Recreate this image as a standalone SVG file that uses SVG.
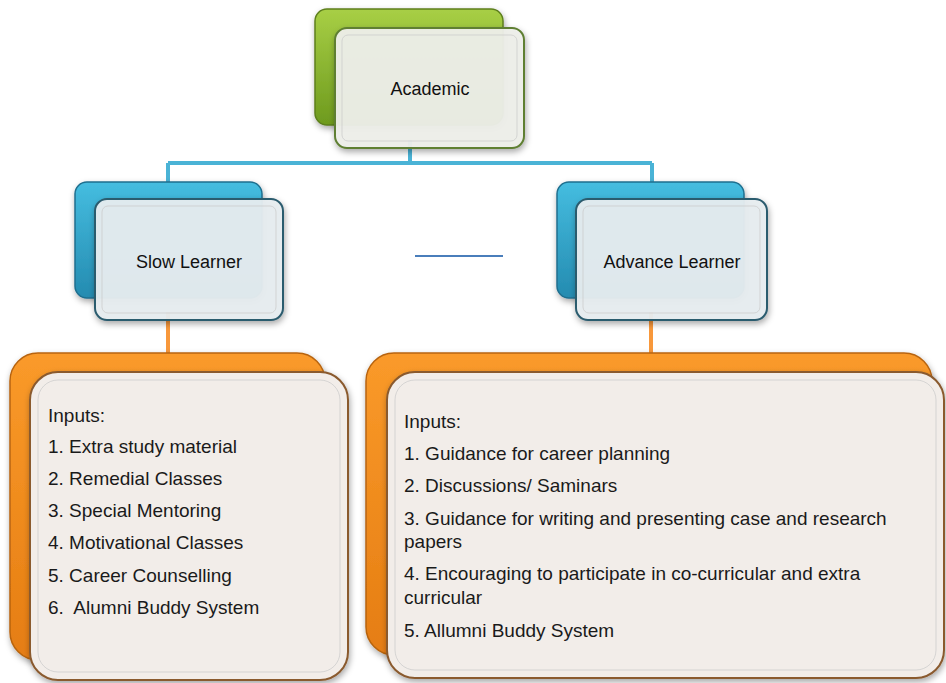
<svg xmlns="http://www.w3.org/2000/svg" width="946" height="683" viewBox="0 0 946 683">
<defs>
<linearGradient id="gGreen" x1="0" y1="0" x2="0" y2="1"><stop offset="0" stop-color="#a8cf45"/><stop offset="1" stop-color="#6e9a1e"/></linearGradient>
<linearGradient id="gBlue" x1="0" y1="0" x2="0" y2="1"><stop offset="0" stop-color="#45bde0"/><stop offset="1" stop-color="#248bb0"/></linearGradient>
<linearGradient id="gOrange" x1="0" y1="0" x2="0" y2="1"><stop offset="0" stop-color="#fa9a2a"/><stop offset="1" stop-color="#e57d12"/></linearGradient>
<filter id="sh" x="-10%" y="-10%" width="125%" height="125%"><feDropShadow dx="1" dy="3" stdDeviation="3" flood-color="#000" flood-opacity="0.35"/></filter>
<style>
.back{filter:url(#sh)}
.fg{fill:#eeefea;stroke:#5f7f33;stroke-width:2}
.fb{fill:#e7edf0;stroke:#2c5b6e;stroke-width:2}
.fo{fill:#f2ede9;stroke:#8a5a2e;stroke-width:2}
.bevel2{fill:none;stroke:#c9c9c9;stroke-width:1;stroke-opacity:0.7}
.lbl{font-family:"Liberation Sans",Arial,sans-serif;font-size:18px;fill:#111;text-anchor:middle}
.txt{font-family:"Liberation Sans",Arial,sans-serif;font-size:19px;fill:#1a1a1a;white-space:pre}
.cb{fill:none;stroke:#4ab3d6;stroke-width:4}
.co{fill:none;stroke:#f8983b;stroke-width:4}
</style>
</defs>
<g id="connectors">
<path class="cb" d="M410,140 V163 M168,163 H652 M168,163 V190 M652,163 V190"/>
<path class="co" d="M168,312 V360 M651,312 V360"/>
<line x1="415" y1="256" x2="503" y2="256" stroke="#4a7ebb" stroke-width="2"/>
</g>
<g id="academic">
<rect class="back" x="315" y="9" width="188" height="116" rx="12" fill="url(#gGreen)" stroke="#5d7f1e" stroke-width="1.5"/>
<rect class="fg" x="335" y="28" width="189" height="120" rx="12" filter="url(#sh)" fill-opacity="0.95"/>
<rect class="bevel2" x="342" y="35" width="175" height="106" rx="6"/>
<text class="lbl" x="430" y="95">Academic</text>
</g>
<g id="slow-learner">
<rect class="back" x="75" y="182" width="187" height="116" rx="12" fill="url(#gBlue)" stroke="#1f6f8f" stroke-width="1.5"/>
<rect class="fb" x="95" y="199" width="188" height="121" rx="12" filter="url(#sh)" fill-opacity="0.95"/>
<rect class="bevel2" x="102" y="206" width="174" height="107" rx="6"/>
<text class="lbl" x="189" y="268">Slow Learner</text>
</g>
<g id="advance-learner">
<rect class="back" x="557" y="182" width="187" height="116" rx="12" fill="url(#gBlue)" stroke="#1f6f8f" stroke-width="1.5"/>
<rect class="fb" x="576" y="199" width="191" height="121" rx="12" filter="url(#sh)" fill-opacity="0.95"/>
<rect class="bevel2" x="583" y="206" width="177" height="107" rx="6"/>
<text class="lbl" x="672" y="268">Advance Learner</text>
</g>
<g id="slow-inputs">
<rect class="back" x="10" y="353" width="315" height="307" rx="28" fill="url(#gOrange)" stroke="#b86410" stroke-width="1.5"/>
<rect class="fo" x="30" y="372" width="318" height="308" rx="28" filter="url(#sh)"/>
<rect class="bevel2" x="38" y="380" width="302" height="292" rx="20"/>
<text class="txt" x="48" y="422">Inputs:</text>
<text class="txt" x="48" y="453">1. Extra study material</text>
<text class="txt" x="48" y="485">2. Remedial Classes</text>
<text class="txt" x="48" y="517">3. Special Mentoring</text>
<text class="txt" x="48" y="549">4. Motivational Classes</text>
<text class="txt" x="48" y="582">5. Career Counselling</text>
<text class="txt" x="48" y="614" xml:space="preserve">6.  Alumni Buddy System</text>
</g>
<g id="advance-inputs">
<rect class="back" x="366" y="353" width="566" height="302" rx="28" fill="url(#gOrange)" stroke="#b86410" stroke-width="1.5"/>
<rect class="fo" x="387" y="372" width="557" height="306" rx="28" filter="url(#sh)"/>
<rect class="bevel2" x="395" y="380" width="541" height="290" rx="20"/>
<text class="txt" x="404" y="428">Inputs:</text>
<text class="txt" x="404" y="460">1. Guidance for career planning</text>
<text class="txt" x="404" y="492">2. Discussions/ Saminars</text>
<text class="txt" x="404" y="525">3. Guidance for writing and presenting case and research</text>
<text class="txt" x="404" y="548">papers</text>
<text class="txt" x="404" y="580">4. Encouraging to participate in co-curricular and extra</text>
<text class="txt" x="404" y="604">curricular</text>
<text class="txt" x="404" y="637">5. Allumni Buddy System</text>
</g>
</svg>
